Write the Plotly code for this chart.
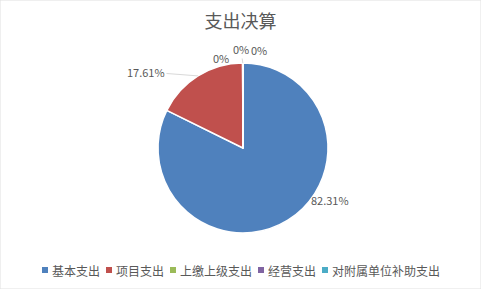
import math
import plotly.graph_objects as go

categories = ["基本支出", "项目支出", "上缴上级支出", "经营支出", "对附属单位补助支出"]
values = [82.31, 17.61, 0.03, 0.03, 0.02]
label_texts = ["82.31%", "17.61%", "0%", "0%", "0%"]
colors = ["#4f81bd", "#c0504d", "#9bbb59", "#8064a2", "#4bacc6"]

W, H = 481, 289
cx, cy, r = 243, 148, 85
FONT = "Noto Sans CJK SC"
GREY = "#595959"

fig = go.Figure(go.Pie(
    labels=categories,
    values=values,
    text=label_texts,
    textinfo="none",
    sort=False,
    direction="clockwise",
    rotation=0,
    marker=dict(colors=colors, line=dict(color="white", width=1.5)),
    domain=dict(x=[(cx - r) / W, (cx + r) / W], y=[(H - cy - r) / H, (H - cy + r) / H]),
    hoverinfo="label+percent",
    showlegend=False,
))

# data labels: placed relative to each slice's outer-edge midpoint
# (dx, dy offsets in px, leader line or not)
label_style = [(42, -20, False), (-52, -4, True), (-22, -5, False), (-2, -14, True), (16, -13, False)]
total = sum(values)
cum = 0.0
annotations = []
for v, t, (dx, dy, lead) in zip(values, label_texts, label_style):
    th = 2 * math.pi * (cum + v / 2) / total
    cum += v
    ex = cx + r * math.sin(th)
    ey = cy - r * math.cos(th)
    if lead:
        annotations.append(dict(
            x=ex / W, y=1 - ey / H, xref="paper", yref="paper", text=t,
            showarrow=True, ax=dx, ay=dy, arrowhead=0, arrowwidth=1, arrowcolor="#d9d9d9",
            standoff=0, startstandoff=0,
            font=dict(family=FONT, size=11, color=GREY)))
    else:
        annotations.append(dict(
            x=ex / W, y=1 - ey / H, xref="paper", yref="paper", text=t,
            xanchor="center", yanchor="middle",
            showarrow=False, xshift=dx, yshift=-dy,
            font=dict(family=FONT, size=11, color=GREY)))

# legend drawn as squares + text in one row
shapes = [dict(type="rect", xref="paper", yref="paper", x0=0, y0=0, x1=1, y1=1,
               line=dict(color="#e0e0e0", width=1))]
lx, ly = 42, 270
sq, gap, after, cw = 6, 4, 6, 12
for name, c in zip(categories, colors):
    shapes.append(dict(type="rect", xref="paper", yref="paper",
                       x0=lx / W, x1=(lx + sq) / W,
                       y0=1 - (ly + sq / 2) / H, y1=1 - (ly - sq / 2) / H,
                       fillcolor=c, line=dict(width=0)))
    annotations.append(dict(x=(lx + sq + gap) / W, y=1 - ly / H, xref="paper", yref="paper",
                            xanchor="left", yanchor="middle", text=name, showarrow=False,
                            xshift=-2,
                            font=dict(family=FONT, size=12, color=GREY)))
    lx += sq + gap + cw * len(name) + after

fig.update_layout(
    width=W, height=H,
    margin=dict(l=0, r=0, t=0, b=0),
    paper_bgcolor="white",
    plot_bgcolor="white",
    title=dict(text="支出决算", x=0.5, xanchor="center", y=1 - 22 / H, yanchor="middle",
               font=dict(family=FONT, size=18, color=GREY)),
    showlegend=False,
    annotations=annotations,
    shapes=shapes,
)

fig.write_html("out.html")
